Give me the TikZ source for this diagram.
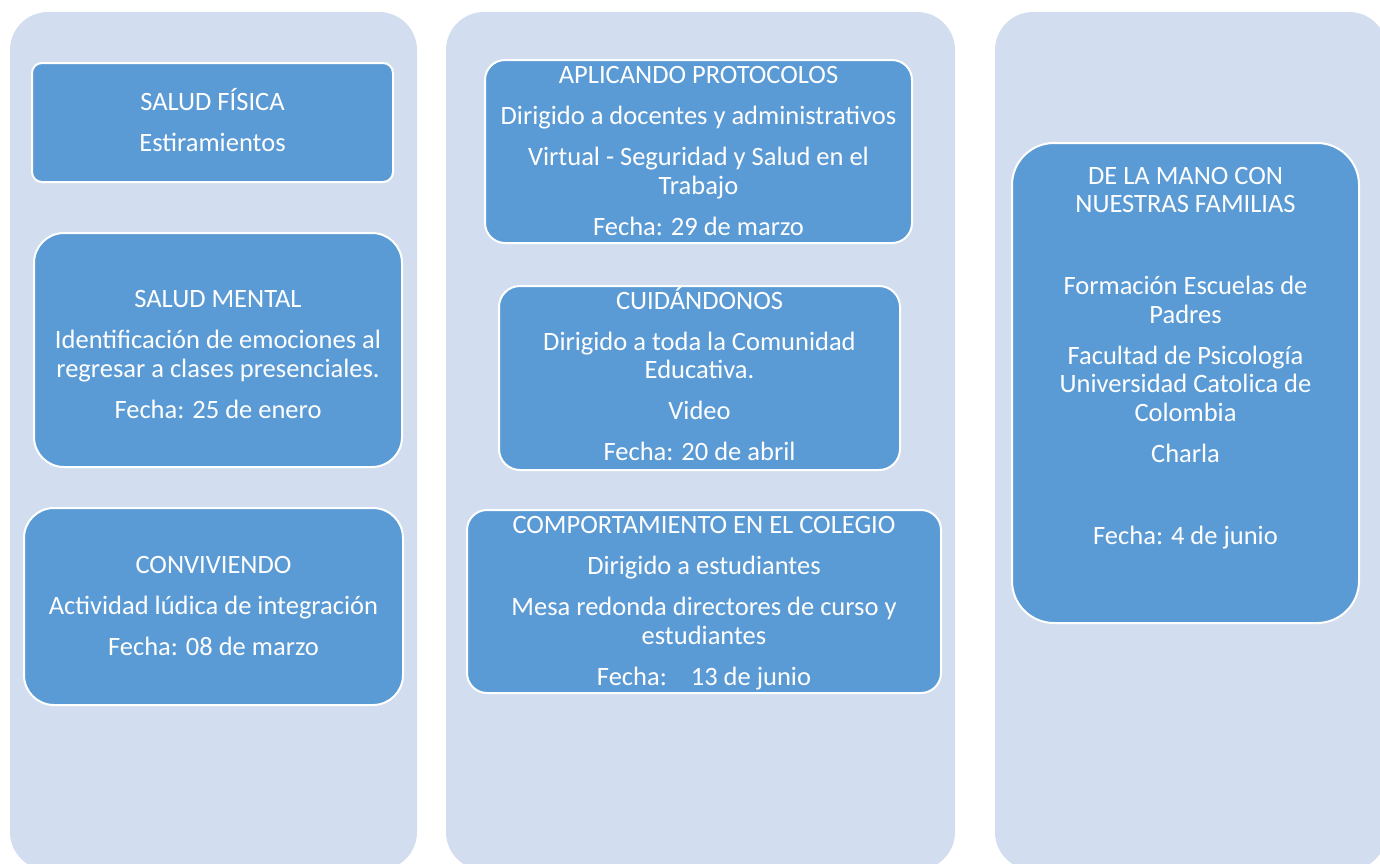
\documentclass[tikz,border=0pt]{standalone}
\usepackage{fontspec}
\setmainfont{Carlito}
\definecolor{colbg}{HTML}{D2DEEF}
\definecolor{boxbg}{HTML}{5B9BD5}
\begin{document}
\begin{tikzpicture}[x=1pt,y=-1pt,
  column/.style={fill=colbg, draw=none, rounded corners=38pt, inner sep=0pt, outer sep=0pt},
  card/.style={fill=boxbg, draw=white, line width=2pt, inner sep=0pt, outer sep=0pt},
  label/.style={text=white, align=center, anchor=base, inner sep=0pt,
    font=\fontsize{26.5pt}{28.5pt}\selectfont}]
\useasboundingbox (0,0) rectangle (1380,863);
\clip (0,0) rectangle (1380,863);
% columns
\node[column, minimum width=407pt, minimum height=858pt] (col1) at (213.5,441) {};
\node[column, minimum width=509pt, minimum height=858pt] (col2) at (700.5,441) {};
\node[column, minimum width=392pt, minimum height=858pt] (col3) at (1191,441) {};
% column 1 (text nodes anchored at the baseline of their last line)
\node[card, rounded corners=10pt, minimum width=361pt, minimum height=119pt] (b1) at (212.5,122.5) {};
\node[label] (t1) at (212.5,151) {SALUD FÍSICA\\[12.5pt]Estiramientos};
\node[card, rounded corners=30pt, minimum width=368pt, minimum height=234pt] (b2) at (218,350) {};
\node[label] (t2) at (218,418.3) {SALUD MENTAL\\[12.5pt]Identificación de emociones al\\regresar a clases presenciales.\\[12.5pt]Fecha: 25 de enero};
\node[card, rounded corners=30pt, minimum width=379pt, minimum height=197pt] (b3) at (213.5,606.5) {};
\node[label] (t3) at (213.5,655) {CONVIVIENDO\\[12.5pt]Actividad lúdica de integración\\[12.5pt]Fecha: 08 de marzo};
% column 2
\node[card, rounded corners=20pt, minimum width=427pt, minimum height=183pt] (b4) at (698.5,151.5) {};
\node[label] (t4) at (698.5,235) {APLICANDO PROTOCOLOS\\[12.5pt]Dirigido a docentes y administrativos\\[12.5pt]Virtual - Seguridad y Salud en el\\Trabajo\\[12.5pt]Fecha: 29 de marzo};
\node[card, rounded corners=21pt, minimum width=401pt, minimum height=184pt] (b5) at (699.5,378) {};
\node[label] (t5) at (699.5,460.7) {CUIDÁNDONOS\\[12.5pt]Dirigido a toda la Comunidad\\Educativa.\\[12.5pt]Video\\[12.5pt]Fecha: 20 de abril};
\node[card, rounded corners=20pt, minimum width=474pt, minimum height=183pt] (b6) at (704,601.5) {};
\node[label] (t6) at (704,685) {COMPORTAMIENTO EN EL COLEGIO\\[12.5pt]Dirigido a estudiantes\\[12.5pt]Mesa redonda directores de curso y\\estudiantes\\[12.5pt]Fecha:\ \ \ \ 13 de junio};
% column 3
\node[card, rounded corners=42pt, minimum width=347pt, minimum height=480pt] (b7) at (1185.5,383) {};
\node[label] (t7) at (1185.5,544) {DE LA MANO CON\\NUESTRAS FAMILIAS\\[12.5pt]\mbox{}\\[12.5pt]Formación Escuelas de\\Padres\\[12.5pt]Facultad de Psicología\\Universidad Catolica de\\Colombia\\[12.5pt]Charla\\[12.5pt]\mbox{}\\[12.5pt]Fecha: 4 de junio};
\end{tikzpicture}
\end{document}
